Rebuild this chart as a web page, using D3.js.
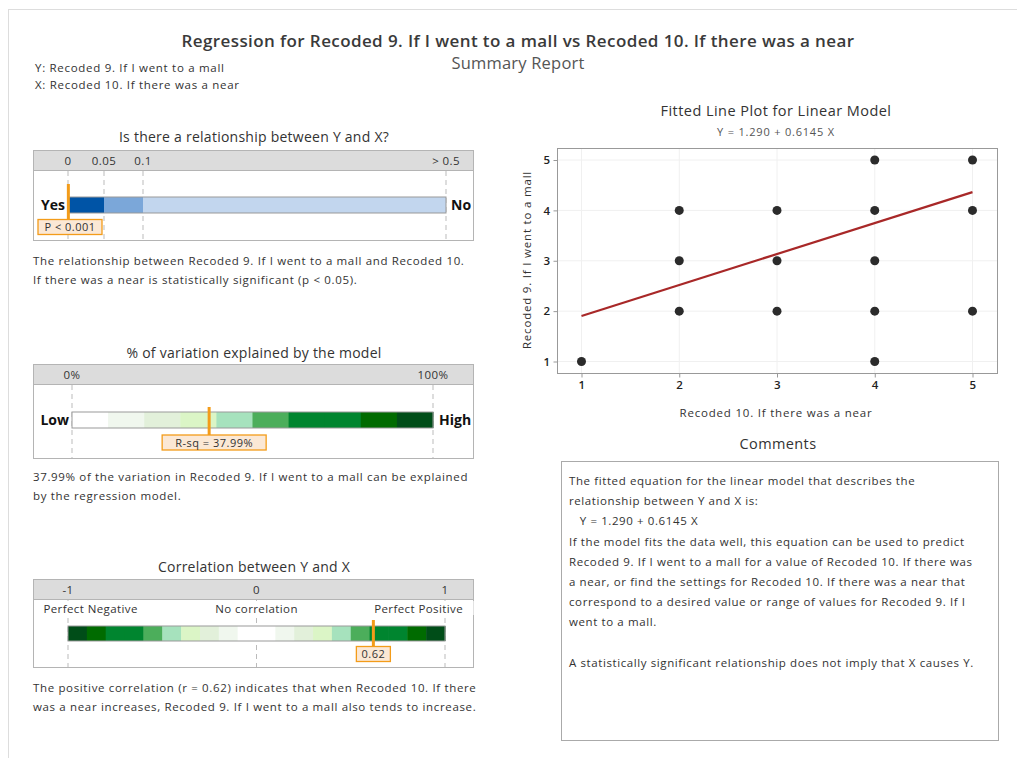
<!DOCTYPE html>
<html>
<head>
<meta charset="utf-8">
<script src="https://cdn.jsdelivr.net/npm/d3@7"></script>
<style>
  body { margin: 0; background: #fff; }
  svg text { font-family: "Open Sans", "Noto Sans", sans-serif; fill: #333; }
  .body { font-size: 11.5px; letter-spacing: 0.65px; }
  .ptitle { font-size: 14px; letter-spacing: 0.25px; }
  .tick { font-size: 11.5px; letter-spacing: 0.4px; }
  .big { font-size: 14px; font-weight: 700; fill: #111 !important; }
</style>
</head>
<body>
<div id="chart"></div>
<script>
var xVals = [1, 2, 2, 2, 3, 3, 3, 4, 4, 4, 4, 4, 5, 5, 5];
var yVals = [1, 2, 3, 4, 2, 3, 4, 1, 2, 3, 4, 5, 2, 4, 5];
var intercept = 1.290, slope = 0.6145;
var pValue = 0.0005, rsq = 37.99, corr = 0.62;
var pTicks = [0, 0.05, 0.1, 0.5];
var pTickLabels = ["0", "0.05", "0.1", "> 0.5"];
var pColors = ["#0054a6", "#7ba7d9", "#c2d6ee"];
var greenSteps = ["#ffffff", "#f0f7ee", "#e2f0da", "#dbf5c6", "#a6e2bd", "#4cae5b", "#00852f", "#00852f", "#006b00", "#004d18"];
var axisTicks = [1, 2, 3, 4, 5];

var W = 1017, H = 758;
var svg = d3.select("#chart").append("svg").attr("width", W).attr("height", H);

// page frame
svg.append("line").attr("x1", 8).attr("x2", W).attr("y1", 9.5).attr("y2", 9.5).attr("stroke", "#ddd");
svg.append("line").attr("x1", 8.5).attr("x2", 8.5).attr("y1", 9).attr("y2", H).attr("stroke", "#ddd");

svg.append("text").attr("x", 518).attr("y", 47).attr("text-anchor", "middle")
  .style("font-size", "17px").style("letter-spacing", "0.4px").style("font-weight", 600).style("fill", "#3a3a3a")
  .text("Regression for Recoded 9. If I went to a mall vs Recoded 10. If there was a near");
svg.append("text").attr("x", 518).attr("y", 69).attr("text-anchor", "middle")
  .style("font-size", "16.5px").style("letter-spacing", "0.2px").style("fill", "#555").text("Summary Report");
svg.append("text").attr("x", 35).attr("y", 72).attr("class", "body").style("letter-spacing", "0.7px")
  .text("Y: Recoded 9. If I went to a mall");
svg.append("text").attr("x", 35).attr("y", 89).attr("class", "body").style("letter-spacing", "0.7px")
  .text("X: Recoded 10. If there was a near");

var orange = "#f39c1a";

function panelBox(y0, h, title, titleY) {
  svg.append("text").attr("x", 254).attr("y", titleY).attr("text-anchor", "middle")
    .attr("class", "ptitle").text(title);
  svg.append("rect").attr("x", 33.5).attr("y", y0 + 0.5).attr("width", 440).attr("height", 20)
    .attr("fill", "#dcdcdc");
  svg.append("rect").attr("x", 33.5).attr("y", y0 + 0.5).attr("width", 440).attr("height", h)
    .attr("fill", "none").attr("stroke", "#b4b4b4");
  svg.append("line").attr("x1", 33.5).attr("x2", 473.5).attr("y1", y0 + 20.5).attr("y2", y0 + 20.5)
    .attr("stroke", "#b4b4b4");
}
function dashed(x, y1, y2) {
  svg.append("line").attr("x1", x).attr("x2", x).attr("y1", y1).attr("y2", y2)
    .attr("stroke", "#bbb").attr("stroke-dasharray", "5,4");
}
function marker(x, y1, y2) {
  svg.append("line").attr("x1", x).attr("x2", x).attr("y1", y1).attr("y2", y2)
    .attr("stroke", orange).attr("stroke-width", 3);
}
function labelBox(cx, y, w, label) {
  svg.append("rect").attr("x", cx).attr("y", y).attr("width", w).attr("height", 15)
    .attr("fill", "#fbe8d5").attr("stroke", orange).attr("stroke-width", 1.3);
  svg.append("text").attr("x", cx + w / 2).attr("y", y + 11.5).attr("text-anchor", "middle")
    .attr("class", "body").style("font-size", "11px").style("letter-spacing", "0.5px").text(label);
}
function para(x, y, lines, gap) {
  lines.forEach(function(l, i) {
    svg.append("text").attr("x", x).attr("y", y + i * gap).attr("class", "body").text(l);
  });
}

// ---- panel 1: p-value
panelBox(150, 90, "Is there a relationship between Y and X?", 142);
var px = d3.scaleLinear().domain(pTicks).range([68, 104, 143, 446]);
pTicks.forEach(function(t, i) {
  dashed(px(t), 171, 240);
  svg.append("text").attr("x", px(t)).attr("y", 165).attr("text-anchor", "middle")
    .attr("class", "tick").text(pTickLabels[i]);
});
for (var i = 0; i < 3; i++) {
  svg.append("rect").attr("x", px(pTicks[i])).attr("y", 197).attr("width", px(pTicks[i + 1]) - px(pTicks[i]))
    .attr("height", 16).attr("fill", pColors[i]);
}
svg.append("rect").attr("x", px(0)).attr("y", 197).attr("width", px(0.5) - px(0)).attr("height", 16)
  .attr("fill", "none").attr("stroke", "#999");
svg.append("text").attr("x", 65).attr("y", 210).attr("text-anchor", "end").attr("class", "big").text("Yes");
svg.append("text").attr("x", 451).attr("y", 210).attr("class", "big").text("No");
marker(px(pValue), 184, 219);
labelBox(38, 219.5, 64, "P < 0.001");
para(33, 265, ["The relationship between Recoded 9. If I went to a mall and Recoded 10.",
  "If there was a near is statistically significant (p < 0.05)."], 19);

// ---- panel 2: R-sq
panelBox(364, 94, "% of variation explained by the model", 358);
var rx = d3.scaleLinear().domain([0, 100]).range([72, 433]);
[0, 100].forEach(function(t) {
  dashed(rx(t), 385, 458);
  svg.append("text").attr("x", rx(t)).attr("y", 379).attr("text-anchor", "middle")
    .attr("class", "tick").text(t + "%");
});
greenSteps.forEach(function(c, i) {
  svg.append("rect").attr("x", rx(i * 10)).attr("y", 412).attr("width", rx(10) - rx(0) + 0.5)
    .attr("height", 16).attr("fill", c);
});
svg.append("rect").attr("x", rx(0)).attr("y", 412).attr("width", rx(100) - rx(0)).attr("height", 16)
  .attr("fill", "none").attr("stroke", "#999");
svg.append("text").attr("x", 69).attr("y", 425).attr("text-anchor", "end").attr("class", "big").text("Low");
svg.append("text").attr("x", 439).attr("y", 425).attr("class", "big").text("High");
marker(rx(rsq), 407, 435);
labelBox(rx(rsq) - 47, 435, 104, "R-sq = " + rsq.toFixed(2) + "%");
para(33, 481, [rsq.toFixed(2) + "% of the variation in Recoded 9. If I went to a mall can be explained",
  "by the regression model."], 19);

// ---- panel 3: correlation
panelBox(579, 88, "Correlation between Y and X", 572);
var cx = d3.scaleLinear().domain([-1, 1]).range([68, 445]);
[-1, 0, 1].forEach(function(t) {
  dashed(cx(t), 600, 667);
  svg.append("text").attr("x", cx(t)).attr("y", 594).attr("text-anchor", "middle")
    .attr("class", "tick").text(t);
});
[["Perfect Negative", -0.88], ["No correlation", 0], ["Perfect Positive", 0.86]].forEach(function(d) {
  svg.append("rect").attr("x", cx(d[1]) - 55).attr("y", 601).attr("width", 110).attr("height", 14).attr("fill", "#fff");
  svg.append("text").attr("x", cx(d[1])).attr("y", 613).attr("text-anchor", "middle")
    .attr("class", "tick").text(d[0]);
});
d3.range(-10, 10).forEach(function(k) {
  var lo = k / 10, idx = k < 0 ? -k - 1 : k;
  svg.append("rect").attr("x", cx(lo)).attr("y", 626).attr("width", cx(0.1) - cx(0) + 0.5)
    .attr("height", 15).attr("fill", greenSteps[idx]);
});
svg.append("rect").attr("x", cx(-1)).attr("y", 626).attr("width", cx(1) - cx(-1)).attr("height", 15)
  .attr("fill", "none").attr("stroke", "#999");
marker(cx(corr), 620, 647);
labelBox(cx(corr) - 17, 646.5, 34, corr.toFixed(2));
para(33, 692, ["The positive correlation (r = " + corr.toFixed(2) + ") indicates that when Recoded 10. If there",
  "was a near increases, Recoded 9. If I went to a mall also tends to increase."], 19);

// ---- fitted line plot
svg.append("text").attr("x", 776).attr("y", 116).attr("text-anchor", "middle")
  .style("font-size", "14.5px").style("letter-spacing", "0.45px").text("Fitted Line Plot for Linear Model");
var eq = "Y = " + intercept.toFixed(3) + " + " + slope.toFixed(4) + " X";
svg.append("text").attr("x", 776).attr("y", 136).attr("text-anchor", "middle")
  .style("font-size", "11px").style("letter-spacing", "0.8px").style("fill", "#555").text(eq);

var sx = d3.scaleLinear().domain([1, 5]).range([581.5, 972.5]);
var sy = d3.scaleLinear().domain([1, 5]).range([361.5, 160]);
var plot = svg.append("g");
axisTicks.forEach(function(t) {
  plot.append("line").attr("x1", sx(t)).attr("x2", sx(t)).attr("y1", 149).attr("y2", 373).attr("stroke", "#f0f0f0");
  plot.append("line").attr("x1", 558).attr("x2", 997).attr("y1", sy(t)).attr("y2", sy(t)).attr("stroke", "#f0f0f0");
});
plot.append("rect").attr("x", 557.5).attr("y", 148.5).attr("width", 440).attr("height", 225)
  .attr("fill", "none").attr("stroke", "#999");
function styleAxis(g) {
  g.select(".domain").remove();
  g.selectAll("line").attr("stroke", "#999");
  g.selectAll("text").style("font-size", "11.5px").style("fill", "#222").style("font-weight", 600);
}
svg.append("g").attr("transform", "translate(0,373.5)")
  .call(d3.axisBottom(sx).tickValues(axisTicks).tickSize(4).tickFormat(d3.format("d"))).call(styleAxis);
svg.append("g").attr("transform", "translate(557.5,0)")
  .call(d3.axisLeft(sy).tickValues(axisTicks).tickSize(4).tickFormat(d3.format("d"))).call(styleAxis);
svg.append("text").attr("x", 776).attr("y", 417).attr("text-anchor", "middle")
  .attr("class", "body").style("letter-spacing", "0.8px").text("Recoded 10. If there was a near");
svg.append("text").attr("transform", "translate(531,260) rotate(-90)").attr("text-anchor", "middle")
  .attr("class", "body").style("letter-spacing", "0.8px").text("Recoded 9. If I went to a mall");

plot.append("line").attr("x1", sx(1)).attr("x2", sx(5))
  .attr("y1", sy(intercept + slope * 1)).attr("y2", sy(intercept + slope * 5))
  .attr("stroke", "#a82828").attr("stroke-width", 2.2);
plot.selectAll("circle").data(xVals).enter().append("circle")
  .attr("cx", function(d) { return sx(d); })
  .attr("cy", function(d, i) { return sy(yVals[i]); })
  .attr("r", 4.5).attr("fill", "#2b2b2b");

// ---- comments
svg.append("text").attr("x", 778).attr("y", 449).attr("text-anchor", "middle")
  .style("font-size", "14.5px").style("letter-spacing", "0.4px").text("Comments");
svg.append("rect").attr("x", 561.5).attr("y", 461.5).attr("width", 437).attr("height", 279)
  .attr("fill", "none").attr("stroke", "#aaa");
var comments = [
  "The fitted equation for the linear model that describes the",
  "relationship between Y and X is:",
  "   " + eq,
  "If the model fits the data well, this equation can be used to predict",
  "Recoded 9. If I went to a mall for a value of Recoded 10. If there was",
  "a near, or find the settings for Recoded 10. If there was a near that",
  "correspond to a desired value or range of values for Recoded 9. If I",
  "went to a mall.",
  "",
  "A statistically significant relationship does not imply that X causes Y."
];
comments.forEach(function(l, i) {
  svg.append("text").attr("x", 569).attr("y", 485 + i * 20.2).attr("class", "body")
    .style("letter-spacing", "0.6px").style("white-space", "pre").text(l);
});
</script>
</body>
</html>
